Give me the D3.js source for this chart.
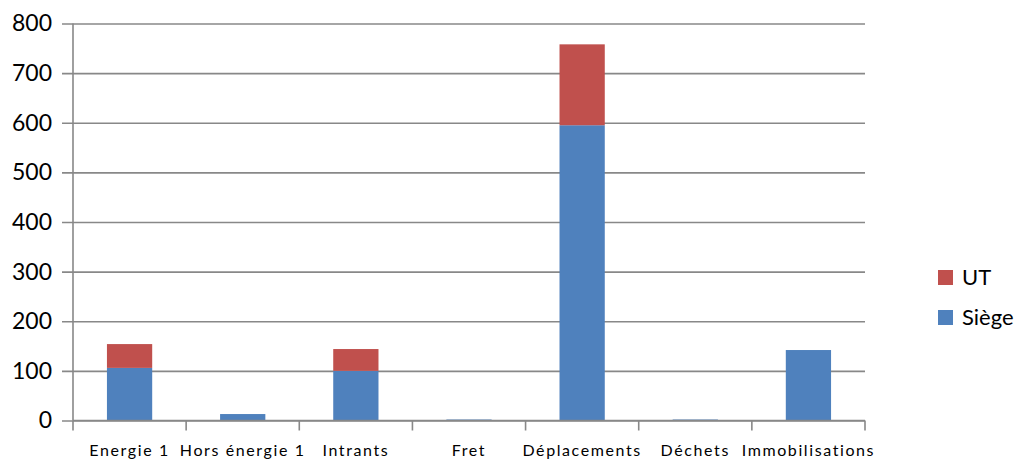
<!DOCTYPE html>
<html>
<head>
<meta charset="utf-8">
<script src="https://cdn.jsdelivr.net/npm/d3@7"></script>
<style>
  body { margin: 0; background: #fff; }
  svg, svg text { font-family: Lato, "Open Sans", sans-serif; }
</style>
</head>
<body>
<script>
// Data
const categories = ["Energie 1", "Hors énergie 1", "Intrants", "Fret", "Déplacements", "Déchets", "Immobilisations"];
const siege = [106, 13, 100, 2, 595, 2, 142];
const ut = [48, 0, 44, 0, 163, 0, 0];
const yTicks = [0, 100, 200, 300, 400, 500, 600, 700, 800];
const seriesNames = ["Siège", "UT"];
const colors = { "Siège": "#4f81bd", "UT": "#c0504d" };

const width = 1023;
const height = 463;
const margin = { top: 23.5, right: 158, bottom: 42.5, left: 73 };
const innerWidth = width - margin.left - margin.right;
const innerHeight = height - margin.top - margin.bottom;

const svg = d3.select("body")
    .append("svg")
    .attr("width", width)
    .attr("height", height);

const g = svg.append("g")
    .attr("transform", `translate(${margin.left},${margin.top})`);

const xScale = d3.scaleBand()
    .domain(categories)
    .range([0, innerWidth])
    .paddingInner(0.6)
    .paddingOuter(0.3);

const yScale = d3.scaleLinear()
    .domain([0, 800])
    .range([innerHeight, 0]);

// Gridlines + y axis
const yAxis = g.append("g")
    .attr("class", "y-axis")
    .call(d3.axisLeft(yScale).tickValues(yTicks).tickSize(-innerWidth).tickPadding(10).tickSizeOuter(0))
    .attr("font-family", null);
yAxis.select(".domain").remove();
yAxis.selectAll(".tick line")
    .attr("x1", -11)
    .attr("stroke", "#888")
    .attr("stroke-width", 1.6);
yAxis.selectAll(".tick text")
    .attr("font-size", 23)
    .attr("fill", "#000")
    .attr("x", -21);

// Stacked bars
const rows = categories.map((c, i) => ({ name: c, "Siège": siege[i], "UT": ut[i] }));
const stacked = d3.stack().keys(seriesNames)(rows);

g.selectAll(".series")
    .data(stacked)
    .enter()
    .append("g")
    .attr("fill", d => colors[d.key])
    .selectAll("rect")
    .data(d => d)
    .enter()
    .append("rect")
    .attr("x", d => xScale(d.data.name))
    .attr("y", d => yScale(d[1]))
    .attr("width", xScale.bandwidth())
    .attr("height", d => yScale(d[0]) - yScale(d[1]));

// Vertical axis line
g.append("line")
    .attr("x1", 0).attr("x2", 0)
    .attr("y1", 0).attr("y2", innerHeight)
    .attr("stroke", "#888")
    .attr("stroke-width", 1.6);

// X axis with boundary ticks
const xAxis = g.append("g")
    .attr("transform", `translate(0,${innerHeight})`);
xAxis.append("line")
    .attr("x1", 0).attr("x2", innerWidth)
    .attr("stroke", "#888")
    .attr("stroke-width", 1.6);
const bounds = d3.range(categories.length + 1).map(i => i * innerWidth / categories.length);
xAxis.selectAll(".bt")
    .data(bounds)
    .enter()
    .append("line")
    .attr("x1", d => d).attr("x2", d => d)
    .attr("y1", 0).attr("y2", 10)
    .attr("stroke", "#888")
    .attr("stroke-width", 1.6);
xAxis.selectAll(".xl")
    .data(categories)
    .enter()
    .append("text")
    .attr("x", d => xScale(d) + xScale.bandwidth() / 2)
    .attr("y", 35)
    .attr("text-anchor", "middle")
    .attr("font-size", 16)
    .attr("letter-spacing", 1.6)
    .attr("fill", "#000")
    .text(d => d);

// Legend
const legend = svg.append("g")
    .attr("transform", "translate(938,262)");
const legendItems = ["UT", "Siège"];
legendItems.forEach((name, i) => {
    const item = legend.append("g").attr("transform", `translate(0,${i * 40})`);
    item.append("rect")
        .attr("y", 8)
        .attr("width", 15)
        .attr("height", 15)
        .attr("fill", colors[name]);
    item.append("text")
        .attr("x", 24)
        .attr("y", 23)
        .attr("font-size", 22)
        .attr("fill", "#000")
        .text(name);
});
</script>
</body>
</html>
